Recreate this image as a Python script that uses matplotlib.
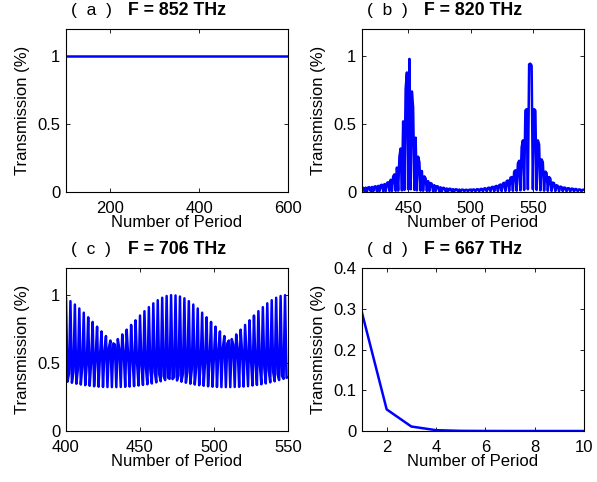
import numpy as np
import matplotlib
matplotlib.use("Agg")
import matplotlib.pyplot as plt

plt.rcParams['font.family'] = ['Liberation Sans', 'DejaVu Sans']
plt.rcParams['font.size'] = 12

BLUE = (0, 0, 1)

# (a) F = 852 THz : flat at 1
a_period = [100, 200, 300, 400, 500, 600]
a_trans = [1.0, 1.0, 1.0, 1.0, 1.0, 1.0]

# (b) F = 820 THz : one value per period, N = 413 .. 591
b_start, b_stop = 413, 591
b_trans = [
    0.030, 0.031, 0.005, 0.032, 0.005, 0.034, 0.035, 0.005, 0.037, 0.005,  # 413
    0.040, 0.042, 0.005, 0.045, 0.006, 0.050, 0.053, 0.006, 0.058, 0.006,  # 423
    0.066, 0.072, 0.007, 0.090, 0.008, 0.115, 0.130, 0.009, 0.180, 0.010,  # 433
    0.260, 0.320, 0.012, 0.520, 0.015, 0.760, 0.880, 0.020, 0.980, 0.020,  # 443
    0.740, 0.620, 0.015, 0.400, 0.012, 0.260, 0.220, 0.010, 0.155, 0.009,  # 453
    0.115, 0.100, 0.008, 0.080, 0.007, 0.066, 0.060, 0.006, 0.050, 0.006,  # 463
    0.043, 0.040, 0.005, 0.035, 0.005, 0.031, 0.029, 0.005, 0.026, 0.005,  # 473
    0.024, 0.023, 0.005, 0.021, 0.005, 0.020, 0.019, 0.005, 0.018, 0.005,  # 483
    0.017, 0.017, 0.005, 0.016, 0.016, 0.005, 0.017, 0.017, 0.005, 0.018,  # 493
    0.018, 0.005, 0.020, 0.020, 0.005, 0.022, 0.023, 0.005, 0.026, 0.027,  # 503
    0.005, 0.030, 0.032, 0.005, 0.036, 0.038, 0.005, 0.042, 0.045, 0.006,  # 513
    0.050, 0.055, 0.006, 0.063, 0.068, 0.007, 0.080, 0.085, 0.008, 0.105,  # 523
    0.110, 0.009, 0.150, 0.160, 0.010, 0.210, 0.230, 0.012, 0.330, 0.380,  # 533
    0.015, 0.600, 0.610, 0.020, 0.940, 0.945, 0.930, 0.020, 0.610, 0.600,  # 543
    0.015, 0.380, 0.350, 0.012, 0.240, 0.220, 0.010, 0.150, 0.140, 0.009,  # 553
    0.110, 0.100, 0.008, 0.070, 0.065, 0.007, 0.050, 0.045, 0.006, 0.040,  # 563
    0.037, 0.006, 0.033, 0.031, 0.005, 0.028, 0.027, 0.005, 0.025, 0.024,  # 573
    0.005, 0.022, 0.021, 0.005, 0.019, 0.018, 0.005, 0.017, 0.016,         # 583
]

# (c) F = 706 THz : values at N = 400+3k, 401+3k, 402+3k
c_first = [
    0.977, 0.956, 0.931, 0.902, 0.871, 0.837, 0.803, 0.768, 0.733, 0.699,
    0.666, 0.637, 0.605, 0.578, 0.552, 0.527, 0.506, 0.485, 0.466, 0.448,
    0.433, 0.418, 0.404, 0.392, 0.382, 0.372, 0.363, 0.355, 0.348, 0.342,
    0.337, 0.333, 0.329, 0.326, 0.324, 0.323, 0.323, 0.323, 0.324, 0.325,
    0.327, 0.330, 0.335, 0.339, 0.344, 0.350, 0.358, 0.366, 0.375, 0.384,
    0.396,
]
c_second = [
    0.363, 0.355, 0.348, 0.342, 0.337, 0.333, 0.329, 0.326, 0.324, 0.323,
    0.323, 0.323, 0.324, 0.325, 0.327, 0.330, 0.335, 0.339, 0.344, 0.350,
    0.358, 0.366, 0.375, 0.384, 0.396, 0.408, 0.422, 0.438, 0.454, 0.472,
    0.491, 0.511, 0.535, 0.560, 0.586, 0.614, 0.645, 0.677, 0.711, 0.746,
    0.781, 0.815, 0.850, 0.882, 0.912, 0.940, 0.963, 0.981, 0.994, 1.000,
]
c_third = [
    0.422, 0.438, 0.454, 0.472, 0.491, 0.511, 0.535, 0.560, 0.586, 0.614,
    0.645, 0.677, 0.711, 0.746, 0.781, 0.815, 0.850, 0.882, 0.912, 0.940,
    0.963, 0.981, 0.994, 1.000, 0.998, 0.990, 0.977, 0.956, 0.931, 0.902,
    0.871, 0.837, 0.803, 0.768, 0.733, 0.699, 0.666, 0.637, 0.605, 0.578,
    0.552, 0.527, 0.506, 0.485, 0.466, 0.448, 0.433, 0.418, 0.404, 0.392,
]

# (d) F = 667 THz
d_period = [1, 2, 3, 4, 5, 6, 7, 8, 9, 10]
d_trans = [0.290, 0.053, 0.011, 0.002, 0.0004, 0.0001, 0.0, 0.0, 0.0, 0.0]

labels = ["(  a  )", "(  b  )", "(  c  )", "(  d  )"]
freqs = ["F = 852 THz", "F = 820 THz", "F = 706 THz", "F = 667 THz"]

b_period = np.arange(b_start, b_stop + 1)
c_trans = np.column_stack([c_first[:-1], c_second, c_third]).ravel()
c_trans = np.append(c_trans, c_first[-1])
c_period = np.arange(400, 400 + len(c_trans))

fig = plt.figure(figsize=(5.97, 4.82), dpi=100)
W, H = 597.0, 482.0
boxes = [(66, 29, 288, 192), (362, 29, 584, 192),
         (66, 268, 288, 431), (362, 268, 584, 431)]
axs = []
for (x0, y0, x1, y1) in boxes:
    axs.append(fig.add_axes([x0 / W, 1 - y1 / H, (x1 - x0) / W, (y1 - y0) / H]))

series = [(a_period, a_trans), (b_period, b_trans),
          (c_period, c_trans), (d_period, d_trans)]
xlims = [(100, 600), (b_start, b_stop), (400, 550), (1, 10)]
xticks = [[200, 400, 600], [450, 500, 550], [400, 450, 500, 550], [2, 4, 6, 8, 10]]

for i, ax in enumerate(axs):
    x, y = series[i]
    ax.plot(x, y, color=BLUE, lw=1.8)
    ax.set_xlim(*xlims[i])
    ax.set_xticks(xticks[i])
    ax.set_xticklabels([str(t) for t in xticks[i]])
    if i == 3:
        ax.set_ylim(0, 0.4)
        ax.set_yticks([0, 0.1, 0.2, 0.3, 0.4])
        ax.set_yticklabels(["0", "0.1", "0.2", "0.3", "0.4"])
    else:
        ax.set_ylim(0, 1.2)
        ax.set_yticks([0, 0.5, 1])
        ax.set_yticklabels(["0", "0.5", "1"])
    ax.tick_params(direction='in', top=True, right=True, length=3, width=0.6,
                   labelsize=12)
    ax.tick_params(axis='x', pad=6.5)
    ax.tick_params(axis='y', pad=4)
    for s in ax.spines.values():
        s.set_linewidth(0.8)
    ax.set_ylabel("Transmission (%)", fontsize=12, labelpad=5)
    ax.set_xlabel("Number of Period", fontsize=12, labelpad=-1)
    ax.text(0.113, 1.115, labels[i], transform=ax.transAxes, ha='center',
            va='center', fontsize=12.5)
    ax.text(0.28, 1.115, freqs[i], transform=ax.transAxes, ha='left',
            va='center', fontsize=12.8, fontweight='bold')

fig.savefig("out.png", dpi=100)
